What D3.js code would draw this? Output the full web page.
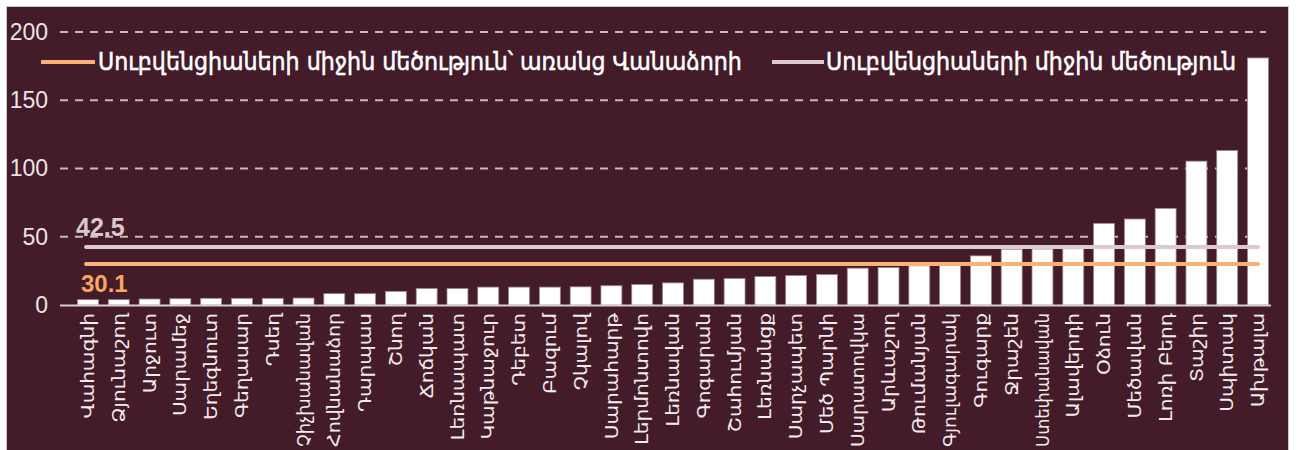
<!DOCTYPE html>
<html><head><meta charset="utf-8">
<script src="https://cdn.jsdelivr.net/npm/d3@7"></script>
<style>body{margin:0;background:#fff;overflow:hidden}</style>
</head><body><svg id="c" width="1305" height="450"></svg>
<script>
const categories = ["Վահագնի","Ձյունաշող","Արջուտ","Սարամեջ","Եղեգնուտ","Գեղասար","Դսեղ","Չիչխանավան","Հովնանաձոր","Դարպաս","Շնող","Ճոճկան","Լեռնապատ","Կաթնաջուր","Դեբետ","Բազում","Չկալով","Սարահարթ","Լերմոնտովո","Լեռնավան","Գոգարան","Շահումյան","Լեռնանցք","Սարչապետ","Մեծ Պարնի","Սարատովկա","Արևաշող","Թումանյան","Գյուլագարակ","Գուգարք","Ջրաշեն","Ստեփանավան","Ալավերդի","Օձուն","Մեծավան","Լոռի Բերդ","Տաշիր","Սպիտակ","Ախթալա"];
const values = [3.9,3.9,4.4,4.6,4.9,4.9,4.9,5.1,8.3,8.3,10.0,12.1,12.1,13.1,13.1,13.1,13.3,14.1,15.0,16.2,18.9,19.4,20.8,21.6,22.3,27.0,27.5,28.7,29.0,36.0,40.9,41.0,41.2,59.8,63.0,70.8,105.4,113.2,181.0];
const yTicks = [0,50,100,150,200];
const meanAll = 42.5;
const meanWithoutVanadzor = 30.1;
const legendLabels = ["Սուբվենցիաների միջին մեծություն՝ առանց Վանաձորի","Սուբվենցիաների միջին մեծություն"];

const svg = d3.select("#c");
const BG = "#431b29";
svg.append("rect").attr("x",6.5).attr("y",6.5).attr("width",1282).attr("height",450)
  .attr("fill",BG).attr("stroke","#c9c9c9").attr("stroke-width",1);

const x = d3.scaleBand().domain(categories).range([72.6,1273.4]).paddingInner(0.32).paddingOuter(0.16);
const y = d3.scaleLinear().domain([0,200]).range([305,32]);

// gridlines
svg.append("g").selectAll("line").data(yTicks.filter(d=>d>0)).join("line")
  .attr("x1",60).attr("x2",1266).attr("y1",d=>y(d)).attr("y2",d=>y(d))
  .attr("stroke","#cdb8ba").attr("stroke-width",2).attr("stroke-dasharray","8,7");

// y axis labels
const yAxis = d3.axisLeft(y).tickValues(yTicks).tickSize(0).tickPadding(0);
const ya = svg.append("g").attr("transform","translate(48,0)").call(yAxis);
ya.select(".domain").remove();
ya.selectAll("text").attr("fill","#ece4e6").style("font-family","'Liberation Sans Narrow','Arial Narrow',sans-serif").style("font-size","23px");

// bars
svg.append("g").selectAll("rect").data(values).join("rect")
  .attr("x",(d,i)=>x(categories[i])).attr("width",x.bandwidth())
  .attr("y",d=>y(d)).attr("height",d=>y(0)-y(d))
  .attr("fill","#ffffff").attr("stroke","#9c8790").attr("stroke-width",0.8);

// x axis
const xAxis = d3.axisBottom(x).tickSize(0).tickPadding(0);
const xa = svg.append("g").attr("transform","translate(0,305)").call(xAxis);
xa.select(".domain").remove();
svg.append("line").attr("x1",60).attr("x2",1271).attr("y1",305.5).attr("y2",305.5).attr("stroke","#d8d0d2").attr("stroke-width",2);
const maxLen = 134;
xa.selectAll("text")
  .attr("fill","#f2ecee").attr("text-anchor","end")
  .attr("dy","0.36em").attr("x",0).attr("y",0)
  .style("font-family","'DejaVu Sans','DejaVu Sans Condensed',sans-serif").style("font-size","17px")
  .each(function(){
    const len = this.getComputedTextLength();
    const s = Math.min(1.18, maxLen/len);
    d3.select(this).attr("transform",`translate(0,8) rotate(-90) scale(${s.toFixed(3)},1)`);
  });

// mean lines
const xs = x(categories[0]) + x.bandwidth()/2 - 2, xe = x(categories[categories.length-1]) + x.bandwidth()/2;
svg.append("line").attr("x1",xs).attr("x2",xe).attr("y1",y(meanAll)).attr("y2",y(meanAll))
  .attr("stroke","#dccbcb").attr("stroke-width",4).attr("stroke-linecap","round");
svg.append("line").attr("x1",xs).attr("x2",xe).attr("y1",y(meanWithoutVanadzor)).attr("y2",y(meanWithoutVanadzor))
  .attr("stroke","#f8b277").attr("stroke-width",4).attr("stroke-linecap","round");

svg.append("text").attr("x",76).attr("y",y(meanAll)-11).text(meanAll.toFixed(1))
  .attr("fill","#d9c9ca").style("font-family","'Liberation Sans Narrow',sans-serif").style("font-size","25px").style("font-weight","bold");
svg.append("text").attr("x",81).attr("y",y(meanWithoutVanadzor)+28).text(meanWithoutVanadzor.toFixed(1))
  .attr("fill","#f5a764").style("font-family","'Liberation Sans Narrow',sans-serif").style("font-size","24px").style("font-weight","bold");

// legend
const leg = [
  {x1:41,x2:95,tx:98,w:644,color:"#f8b277",label:legendLabels[0]},
  {x1:772,x2:824,tx:826,w:410,color:"#dccbcb",label:legendLabels[1]}
];
leg.forEach(l=>{
  svg.append("line").attr("x1",l.x1).attr("x2",l.x2).attr("y1",62).attr("y2",62).attr("stroke",l.color).attr("stroke-width",4);
  const t = svg.append("text").attr("x",l.tx).attr("y",70).text(l.label).attr("fill","#ffffff")
    .attr("stroke","#ffffff").attr("stroke-width",0.5)
    .style("font-family","'DejaVu Sans Condensed','DejaVu Sans',sans-serif").style("font-size","20px");
  const w = t.node().getComputedTextLength();
  t.style("font-size",(20*l.w/w).toFixed(2)+"px");
});
</script></body></html>
